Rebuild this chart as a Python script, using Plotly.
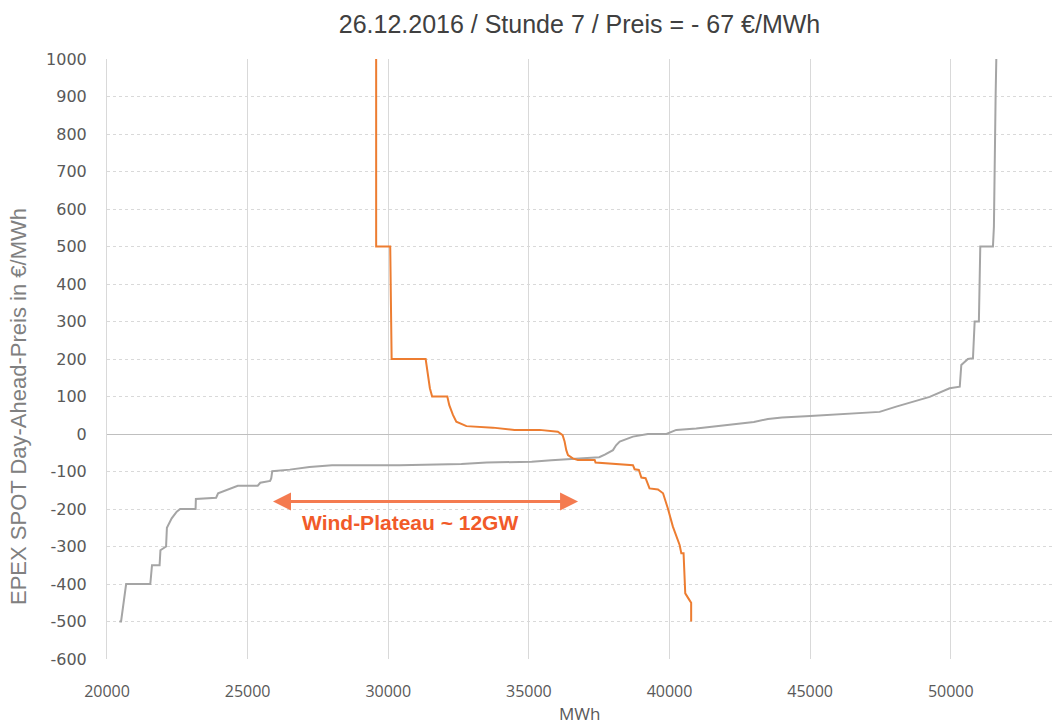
import plotly.graph_objects as go

# Angebotskurve (grau) - Menge in MWh, Preis in EUR/MWh
supply_mwh = [20440, 20500, 20680, 21540, 21600, 21870, 21900, 22100, 22130, 22300,
              22480, 22600, 22780, 23150, 23160, 23880, 23950, 24180, 24400, 24650,
              25360, 25450, 25800, 25840, 25875, 26500, 27200, 28000, 30400, 32600,
              33500, 35100, 35800, 36560, 37500, 37700, 37990, 38100, 38230, 38700,
              39000, 39230, 39890, 40240, 40950, 41500, 42000, 42500, 43000, 43500,
              44000, 45000, 46000, 47000, 47470, 48060, 48660, 49250, 49960, 50320,
              50375, 50610, 50790, 50850, 51000, 51050, 51500, 51535, 51595, 51620]
supply_price = [-500, -500, -400, -400, -350, -350, -310, -300, -250, -225,
                -207, -200, -200, -200, -173, -170, -158, -151, -145, -138,
                -138, -130, -125, -118, -99, -95, -88, -83, -83, -80,
                -76, -74, -70, -66, -62, -55, -43, -30, -20, -7,
                -2, 0, 0, 11, 15, 20, 24, 28, 32, 40,
                44, 48, 52, 57, 59, 73, 86, 99, 122, 126,
                184, 200, 202, 300, 300, 500, 500, 553, 900, 1000]

# Nachfragekurve (orange)
demand_mwh = [29570, 29570, 30070, 30080, 30100, 30120, 31330, 31360, 31420, 31480,
              31560, 32100, 32170, 32250, 32300, 32420, 32780, 33720, 34490, 35380,
              35620, 36030, 36200, 36270, 36330, 36390, 36560, 36740, 37340, 37370,
              38700, 38760, 38910, 39000, 39150, 39290, 39590, 39770, 39940, 40120,
              40360, 40420, 40500, 40560, 40710, 40770, 40770]
demand_price = [1000, 500, 500, 400, 250, 200, 200, 184, 153, 122,
                100, 100, 77, 60, 51, 33, 21, 17, 11, 11,
                9, 6, -3, -20, -43, -56, -65, -69, -69, -76,
                -83, -94, -96, -116, -118, -145, -148, -158, -198, -247,
                -296, -318, -318, -425, -443, -450, -500]

x_ticks = [20000, 25000, 30000, 35000, 40000, 45000, 50000]
x_ticktext = [str(v) for v in x_ticks]
y_ticks = list(range(-600, 1001, 100))
y_ticktext = [str(v) for v in y_ticks]  # normaler Bindestrich statt Minuszeichen

title = "26.12.2016 / Stunde 7 / Preis = - 67 €/MWh"
plateau_label = "Wind-Plateau ~ 12GW"
plateau_start, plateau_end, plateau_level = 25850, 36750, -180

fig = go.Figure()
fig.add_trace(go.Scatter(x=supply_mwh, y=supply_price, mode="lines",
                         line=dict(color="#A5A5A5", width=2), name="Angebot"))
fig.add_trace(go.Scatter(x=demand_mwh, y=demand_price, mode="lines",
                         line=dict(color="#ED7D31", width=2), name="Nachfrage"))

# Doppelpfeil fuer das Wind-Plateau
fig.add_annotation(x=plateau_end, y=plateau_level, ax=plateau_start, ay=plateau_level,
                   xref="x", yref="y", axref="x", ayref="y", text="",
                   showarrow=True, arrowhead=2, arrowside="end+start",
                   arrowsize=1.2, arrowwidth=3, arrowcolor="#F47B50")
fig.add_annotation(x=30790, y=-237, xref="x", yref="y", text=plateau_label,
                   showarrow=False,
                   font=dict(family="Liberation Sans, Arial", size=21, color="#F15A29", weight="bold"))

# Achsentitel als Annotationen (wie im Original leicht versetzt)
fig.add_annotation(x=0, y=0.42, xref="paper", yref="paper", xshift=-89,
                   text="EPEX SPOT Day-Ahead-Preis in €/MWh", textangle=-90,
                   showarrow=False, xanchor="center", yanchor="middle",
                   font=dict(family="Liberation Sans, Arial", size=22, color="#808080"))
fig.add_annotation(x=0.5, y=-0.09, xref="paper", yref="paper", text="MWh",
                   showarrow=False, xanchor="center", yanchor="middle",
                   font=dict(family="Open Sans", size=17, color="#595959"))

fig.update_layout(
    width=1052, height=726,
    margin=dict(l=107, r=0, t=59, b=67),
    paper_bgcolor="white", plot_bgcolor="white",
    showlegend=False,
    title=dict(text=title, x=0.5, xref="paper", y=1 - 24 / 726, yref="container",
               xanchor="center", yanchor="middle",
               font=dict(family="Liberation Sans, Arial", size=25, color="#404040")),
)
fig.update_xaxes(range=[20000, 53600], tickvals=x_ticks, ticktext=x_ticktext, showgrid=True,
                 gridcolor="#D9D9D9", gridwidth=1, zeroline=False,
                 ticks="outside", ticklen=0, ticklabelstandoff=18,
                 tickfont=dict(family="Open Sans", size=16, color="#595959"))
fig.update_yaxes(range=[-600, 1000], tickvals=y_ticks, ticktext=y_ticktext, showgrid=True,
                 gridcolor="#D9D9D9", griddash="dot", gridwidth=1,
                 zeroline=True, zerolinecolor="#BFBFBF", zerolinewidth=1,
                 showline=True, linecolor="#D9D9D9", linewidth=1,
                 ticks="outside", ticklen=0, ticklabelstandoff=16,
                 tickfont=dict(family="DejaVu Sans", size=16, color="#595959"))

# Browser-Standardrand entfernen, damit die Grafik exakt im Fenster sitzt
fig.write_html("out.html", config={"displayModeBar": False},
               post_script="document.body.style.margin='0';")
